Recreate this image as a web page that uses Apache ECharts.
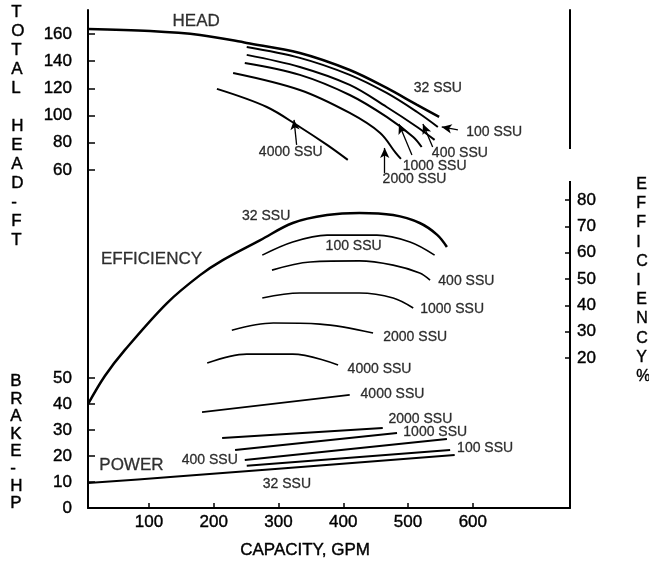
<!DOCTYPE html>
<html>
<head>
<meta charset="utf-8">
<script src="https://cdn.jsdelivr.net/npm/echarts@6/dist/echarts.min.js"></script>
<style>
html, body { margin: 0; padding: 0; background: #fff; }
#chart { width: 649px; height: 564px; }
</style>
</head>
<body>
<div id="chart"></div>
<script>
// capacity (GPM) / value pairs
var head32 = [[6, 163.7], [102, 162.2], [179, 159.3], [251, 153.4], [333, 146.0], [410, 133.5], [467, 120.3], [514, 107.8], [548, 99.0]];
var head100 = [[251, 150.4], [333, 142.4], [410, 129.9], [467, 116.6], [514, 102.6], [546, 91.6]];
var head400 = [[251, 144.6], [333, 135.7], [410, 122.5], [467, 106.3], [514, 91.6], [541, 82.1]];
var head1000 = [[248, 138.7], [333, 129.9], [410, 115.1], [467, 99.0], [508, 84.3], [521, 76.9]];
var head2000 = [[230, 131.3], [333, 118.8], [410, 101.9], [457, 87.2], [481, 72.5], [489, 68.1]];
var head4000 = [[205, 119.6], [282, 106.3], [333, 91.6], [375, 78.4], [407, 67.4]];

var eff32 = [[6, 2.5], [32, 13.2], [63, 23.1], [128, 40.9], [179, 51.5], [214, 57.2], [272, 64.8], [322, 71.3], [375, 74.3], [425, 75.1], [477, 74.3], [518, 71.3], [545, 66.8], [560, 62.2]];
var eff100 = [[275, 59.1], [322, 64.1], [375, 66.7], [452, 66.7], [503, 64.1], [541, 59.1]];
var eff400 = [[290, 53.4], [349, 56.5], [425, 56.9], [477, 55.3], [518, 52.3], [534, 49.6]];
var eff1000 = [[275, 42.8], [333, 44.7], [425, 44.7], [477, 42.8], [508, 39.0]];
var eff2000 = [[228, 30.6], [292, 33.3], [364, 32.9], [446, 29.5]];
var eff4000 = [[190, 18.1], [251, 21.5], [322, 21.5], [392, 17.4]];

var hp32 = [[6, 9.6], [133, 11.9], [572, 20.4]];
var hp100 = [[251, 16.2], [565, 22.3]];
var hp400 = [[248, 18.5], [560, 26.5]];
var hp1000 = [[233, 22.3], [483, 28.8]];
var hp2000 = [[213, 26.9], [461, 30.8]];
var hp4000 = [[182, 36.9], [410, 43.5]];

var capTicks = [100, 200, 300, 400, 500, 600];
var headTicks = [60, 80, 100, 120, 140, 160];
var hpTicks = [0, 10, 20, 30, 40, 50];
var effTicks = [20, 30, 40, 50, 60, 70, 80];

// text notes: [text, capacity, value]
var headNotes = [['HEAD', 173, 169.6], ['32 SSU', 546, 120.3], ['100 SSU', 633, 87.9], ['400 SSU', 580, 72.5],
	['1000 SSU', 541, 62.6], ['2000 SSU', 510, 53.4], ['4000 SSU', 319, 72.9]];
var effNotes = [['32 SSU', 281, 73.9], ['EFFICIENCY', 104, 57.4], ['100 SSU', 416, 62.6], ['400 SSU', 590, 49.3],
	['1000 SSU', 568, 38.6], ['2000 SSU', 511, 27.8], ['4000 SSU', 456, 15.8]];
var hpNotes = [['4000 SSU', 476, 43.8], ['2000 SSU', 519, 34.2], ['1000 SSU', 542, 29.2], ['100 SSU', 619, 22.9],
	['400 SSU', 194, 18.3], ['32 SSU', 313, 9.2], ['POWER', 73, 16.5]];
// arrows on the head chart: [fromCap, fromHead, toCap, toHead]
var headArrows = [[328, 78.4, 324, 96.8], [464, 57.8, 464, 76.2], [506, 71.0, 486, 93.8], [538, 76.9, 523, 93.8], [577, 89.4, 552, 91.6]];

var chart = echarts.init(document.getElementById('chart'));
var font = '"Liberation Sans", Arial, Helvetica, sans-serif';

function curve(data, axis, width) {
	return {
		type: 'line', yAxisIndex: axis, data: data, symbol: 'none',
		smooth: 0.35, silent: true,
		lineStyle: { color: '#000', width: width }
	};
}

function notes(list, axis) {
	return {
		type: 'scatter', yAxisIndex: axis, symbolSize: 1, silent: true,
		itemStyle: { color: 'rgba(0,0,0,0)' },
		data: list.map(function(n) {
			// big words are a bit larger than the SSU tags
			var big = n[0].indexOf('SSU') < 0;
			return { name: n[0], value: [n[1], n[2]], label: { fontSize: big ? 17 : 14 } };
		}),
		label: { show: true, position: 'inside', formatter: '{b}', color: '#000', fontFamily: font,
			textBorderColor: '#000', textBorderWidth: 0.3 }
	};
}

var series = [
	curve(head32, 0, 2.5), curve(head100, 0, 2), curve(head400, 0, 2),
	curve(head1000, 0, 2), curve(head2000, 0, 2), curve(head4000, 0, 2),
	curve(eff32, 2, 2.5), curve(eff100, 2, 1.6), curve(eff400, 2, 1.6),
	curve(eff1000, 2, 1.6), curve(eff2000, 2, 1.6), curve(eff4000, 2, 1.6),
	curve(hp32, 1, 2), curve(hp100, 1, 2), curve(hp400, 1, 2),
	curve(hp1000, 1, 2), curve(hp2000, 1, 2), curve(hp4000, 1, 1.8),
	notes(headNotes, 0), notes(effNotes, 2), notes(hpNotes, 1)
];
series[0].markLine = {
	silent: true, animation: false,
	symbol: ['none', 'arrow'], symbolSize: [7, 10],
	lineStyle: { color: '#000', width: 1.3, type: 'solid' },
	label: { show: false },
	data: headArrows.map(function(a) {
		return [{ coord: [a[0], a[1]] }, { coord: [a[2], a[3]] }];
	})
};

function yAx(pos, min, max, ticks, showLine) {
	return {
		type: 'value', position: pos, min: min, max: max,
		splitLine: { show: false },
		axisLine: { show: showLine, onZero: false, lineStyle: { color: '#000', width: 2 } },
		axisTick: { show: true, inside: true, length: pos == 'left' ? 7 : 5, customValues: ticks,
			lineStyle: { color: '#000', width: 1.5 } },
		axisLabel: { customValues: ticks, color: '#000', fontFamily: font, fontSize: 17,
			textBorderColor: '#000', textBorderWidth: 0.4, margin: pos == 'left' ? 16 : 7 }
	};
}

var titleStyle = { font: '17px ' + font, fill: '#000', stroke: '#000', lineWidth: 0.4, align: 'center' };

var option = {
	animation: false,
	grid: { left: 88, right: 79, top: 10, bottom: 56 },
	xAxis: {
		type: 'value', min: 6, max: 750,
		splitLine: { show: false },
		axisLine: { onZero: false, lineStyle: { color: '#000', width: 2 } },
		axisTick: { inside: true, length: 5, customValues: capTicks, lineStyle: { color: '#000', width: 1.5 } },
		axisLabel: { customValues: capTicks, color: '#000', fontFamily: font, fontSize: 17, margin: 6,
			textBorderColor: '#000', textBorderWidth: 0.4 }
	},
	yAxis: [
		yAx('left', -188.5, 177.6, headTicks, true),
		yAx('left', 0, 191.5, hpTicks, false),
		yAx('right', -36.95, 152.2, effTicks, true)
	],
	series: series,
	graphic: [
		{ type: 'text', left: 11, top: 3, style: Object.assign({ text: 'T\nO\nT\nA\nL\n\nH\nE\nA\nD\n-\nF\nT', lineHeight: 19 }, titleStyle) },
		{ type: 'text', left: 10, top: 373, style: Object.assign({ text: 'B\nR\nA\nK\nE\n-\nH\nP', lineHeight: 17.4 }, titleStyle) },
		{ type: 'text', left: 636, top: 175, style: Object.assign({ text: 'E\nF\nF\nI\nC\nI\nE\nN\nC\nY\n%', lineHeight: 19.2 }, titleStyle, { font: '16px ' + font }) },
		{ type: 'text', left: 240, top: 542, style: Object.assign({ text: 'CAPACITY, GPM' }, titleStyle, { align: 'left' }) },
		// the right frame line is broken between the head and efficiency parts
		{ type: 'rect', left: 567, top: 149, shape: { width: 7, height: 32 }, style: { fill: '#fff' }, z: 100 }
	]
};

chart.setOption(option);
</script>
</body>
</html>
